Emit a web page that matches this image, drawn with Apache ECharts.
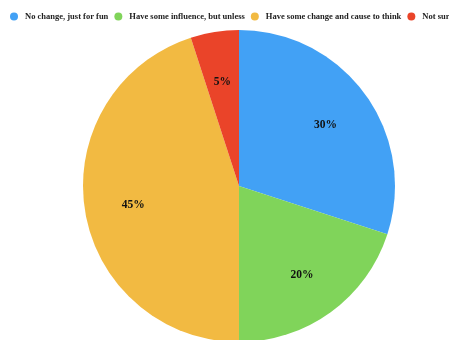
<!DOCTYPE html>
<html><head><meta charset="utf-8">
<script src="https://cdn.jsdelivr.net/npm/echarts@6/dist/echarts.min.js"></script>
<style>html,body{margin:0;padding:0;background:#fff}#c{width:449px;height:340px}</style>
</head><body><div id="c"></div>
<script>
const categories = ['No change, just for fun', 'Have some influence, but unless', 'Have some change and cause to think', 'Not sure'];
const values = [30, 20, 45, 5];
const colors = ['#42A1F5', '#80D45A', '#F2BA42', '#EA4429'];
const data = categories.map((n, i) => ({ name: n, value: values[i], itemStyle: { color: colors[i] } }));
const chart = echarts.init(document.getElementById('c'));
chart.setOption({
  animation: false,
  legend: {
    left: 5, top: 7, width: 2000,
    icon: 'circle', itemWidth: 8, itemHeight: 8, itemGap: 6,
    textStyle: { fontFamily: 'Liberation Serif', fontWeight: 'bold', fontSize: 8.5, color: '#222', padding: [0, 0, 0, 2] },
    data: categories
  },
  series: [
    {
      type: 'pie', center: [239, 186], radius: [0, 156], startAngle: 90, clockwise: true,
      label: { show: false }, labelLine: { show: false }, silent: true,
      data: data
    },
    {
      type: 'pie', center: [239, 186], radius: [90, 118], startAngle: 90, clockwise: true,
      silent: true, labelLine: { show: false },
      itemStyle: { color: 'rgba(0,0,0,0)' },
      label: { show: true, position: 'inside', formatter: '{c}%', fontFamily: 'Liberation Serif', fontWeight: 'bold', fontSize: 11.5, color: '#111', offset: [0, 2] },
      data: categories.map((n, i) => ({ name: n, value: values[i], itemStyle: { color: 'rgba(0,0,0,0)' } }))
    }
  ]
});
</script></body></html>
